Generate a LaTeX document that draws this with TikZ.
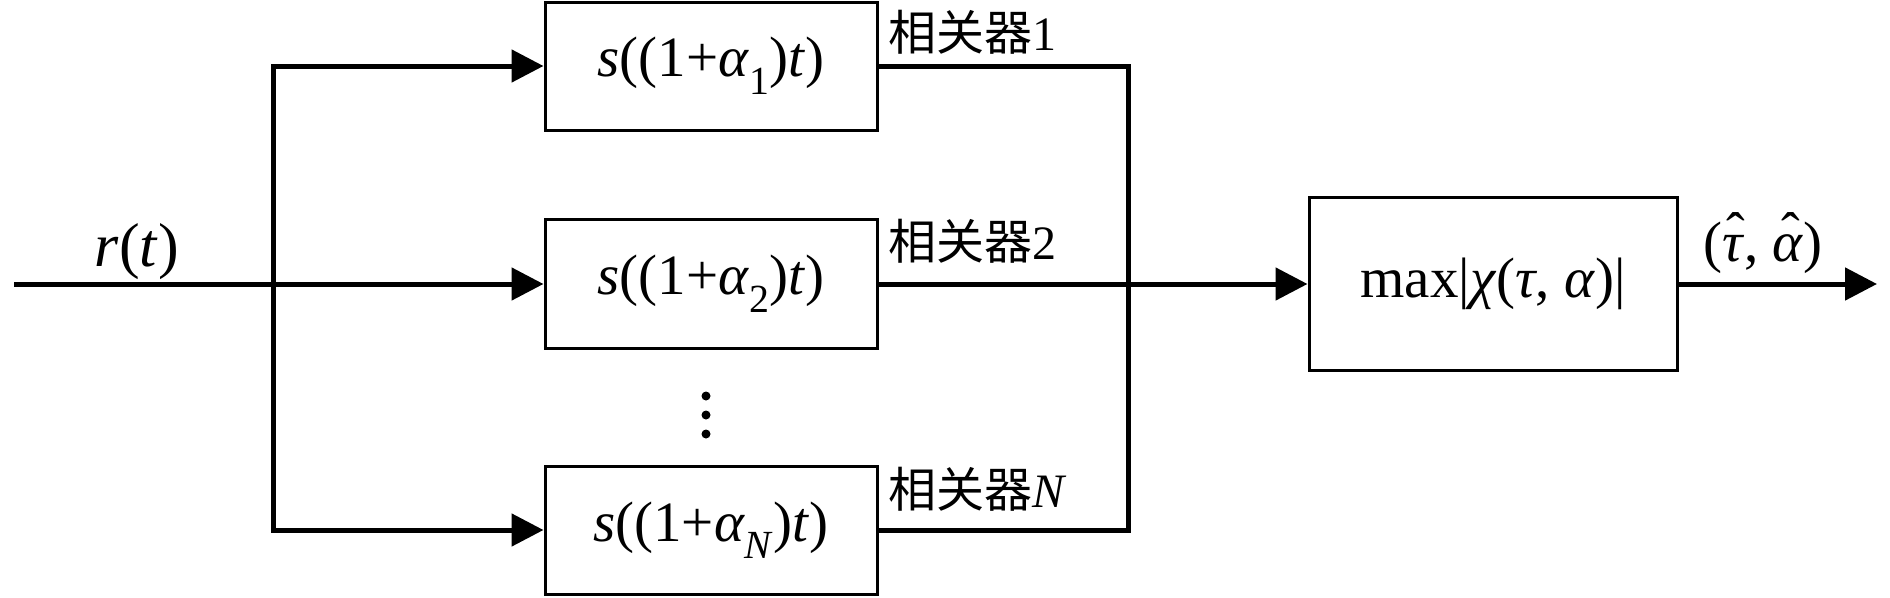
\documentclass[tikz,border=0pt]{standalone}
\usepackage{fontspec}
\setmainfont{Liberation Serif}
\newfontfamily\cjk{Noto Sans CJK SC}
\usetikzlibrary{arrows.meta}
\newcommand{\hatit}[1]{\setbox0\hbox{\textit{#1}}\hbox to \wd0{\hss\kern4pt\raisebox{10pt}{\fontsize{56}{56}\selectfont ˆ}\hss}\kern-\wd0\box0}
\begin{document}
\begin{tikzpicture}[x=1pt,y=-1pt,
  conn/.style={line width=5pt},
  tip/.style={-{Triangle[length=32pt,width=32pt]}},
  blk/.style={draw,line width=3pt,minimum width=332pt,minimum height=128pt,inner sep=0pt,font=\fontsize{57}{64}\selectfont},
  lbl/.style={inner sep=0pt,font=\fontsize{57}{64}\selectfont},
  cjklbl/.style={inner sep=0pt,anchor=west,font=\fontsize{48}{58}\selectfont},
  dotn/.style={circle,fill,inner sep=0pt,minimum size=9pt}]
\useasboundingbox (0,0) rectangle (1890,597);
\node[blk] (b1) at (711,66) {\textit{s}((1+\textit{α}\textsubscript{1})\textit{t})};
\node[blk,minimum height=129pt] (b2) at (711,284) {\textit{s}((1+\textit{α}\textsubscript{2})\textit{t})};
\node[blk] (bN) at (711,530) {\textit{s}((1+\textit{α}\textsubscript{\textit{N}})\textit{t})};
\node[blk,minimum width=368pt,minimum height=173pt] (mx) at (1493,284) {max|\textit{χ}(\textit{τ}, \textit{α})|};
\coordinate (in) at (14,284);
\coordinate (jN) at (273,530);
\coordinate (rN) at (1128,530);
\coordinate (out) at (1877,284);
\draw[conn,tip] (in) -- (b2.west);
\draw[conn,{Triangle[length=32pt,width=32pt]}-{Triangle[length=32pt,width=32pt]}] (b1.west) -| (jN) -- (bN.west);
\draw[conn] (b1.east) -| (rN) -- (bN.east);
\draw[conn,tip] (b2.east) -- (mx.west);
\draw[conn,tip] (mx.east) -- (out);
\node[lbl,font=\fontsize{62}{70}\selectfont] (rt) at (137,252) {\textit{r}(\textit{t})};
\node[cjklbl] (c1) at (888,32) {{\cjk 相关器}1};
\node[cjklbl] (c2) at (888,241) {{\cjk 相关器}2};
\node[cjklbl] (cN) at (888,489) {{\cjk 相关器}\textit{N}};
\node[lbl] (est) at (1763,243) {(\hatit{τ}, \hatit{α})};
\node[dotn] (d1) at (706,396) {};
\node[dotn] (d2) at (706,415) {};
\node[dotn] (d3) at (706,434) {};
\end{tikzpicture}
\end{document}
